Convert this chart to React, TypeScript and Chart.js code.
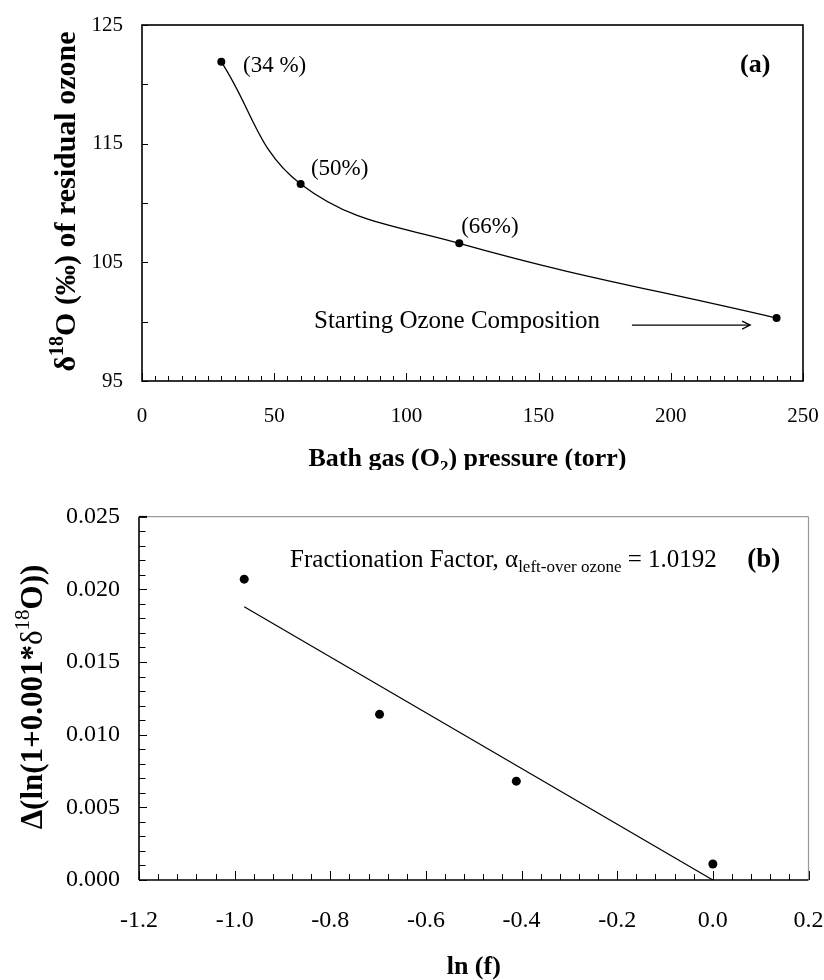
import React, { useEffect, useRef } from 'react';
import { Chart, registerables } from 'chart.js';

Chart.register(...registerables);

const SERIF = '"Liberation Serif", "Times New Roman", serif';

// ---------- Panel (a) data ----------
const pressure = [30, 60, 120, 240];
const delta18O = [121.9, 111.6, 106.6, 100.3];
const percentLabels = ['(34 %)', '(50%)', '(66%)'];
// label anchor positions in data units (x, y)
const percentLabelX = [38.2, 63.9, 120.7];
const percentLabelY = [121.05, 112.4, 107.5];
const startLabel = 'Starting Ozone Composition';

// ---------- Panel (b) data ----------
const lnF = [-0.98, -0.697, -0.411, 0.0];
const deltaLn = [0.0207, 0.0114, 0.0068, 0.0011];
const fitX = [-0.98, 0.0];
const fitY = [0.0188, 0.0];
const alphaValue = '1.0192';

type Seg = { t: string; font: string; dy?: number };

function segsWidth(ctx: CanvasRenderingContext2D, segs: Seg[]) {
  let w = 0;
  for (const s of segs) {
    ctx.font = s.font;
    w += ctx.measureText(s.t).width;
  }
  return w;
}

function drawSegs(ctx: CanvasRenderingContext2D, segs: Seg[], x: number, y: number) {
  let cx = x;
  for (const s of segs) {
    ctx.font = s.font;
    ctx.fillText(s.t, cx, y + (s.dy || 0));
    cx += ctx.measureText(s.t).width;
  }
}

function line(ctx: CanvasRenderingContext2D, x1: number, y1: number, x2: number, y2: number) {
  ctx.beginPath();
  ctx.moveTo(x1, y1);
  ctx.lineTo(x2, y2);
  ctx.stroke();
}

const f = (size: number, bold = false) => `${bold ? 'bold ' : ''}${size}px ${SERIF}`;

const decorA = {
  id: 'decorA',
  afterDraw(chart: any) {
    const { ctx, chartArea } = chart;
    const { left, right, top, bottom } = chartArea;
    const x = chart.scales.x;
    const y = chart.scales.y;
    ctx.save();
    ctx.strokeStyle = '#000';
    ctx.fillStyle = '#000';
    ctx.lineWidth = 1;
    // x ticks (inside)
    for (let i = 0; i <= 50; i++) {
      const px = Math.round(x.getPixelForValue(i * 5)) + 0.5;
      const len = i % 10 === 0 ? 8 : 5;
      line(ctx, px, bottom, px, bottom - len);
    }
    // y ticks (inside)
    for (let i = 0; i <= 6; i++) {
      const py = Math.round(y.getPixelForValue(95 + i * 5)) + 0.5;
      line(ctx, left, py, left + 6, py);
    }
    // frame
    ctx.lineWidth = 1.6;
    ctx.strokeRect(left, top, right - left, bottom - top);

    // annotations
    ctx.textBaseline = 'alphabetic';
    ctx.textAlign = 'left';
    ctx.font = f(23);
    percentLabels.forEach((t, i) => {
      ctx.fillText(t, x.getPixelForValue(percentLabelX[i]), y.getPixelForValue(percentLabelY[i]));
    });
    ctx.font = f(26, true);
    ctx.fillText('(a)', x.getPixelForValue(226.2), y.getPixelForValue(121.05));
    ctx.font = f(25);
    ctx.fillText(startLabel, x.getPixelForValue(65.05), y.getPixelForValue(99.45));
    // arrow
    const ax1 = x.getPixelForValue(185.3);
    const ax2 = x.getPixelForValue(230);
    const ay = y.getPixelForValue(99.71);
    ctx.lineWidth = 1.3;
    line(ctx, ax1, ay, ax2, ay);
    ctx.beginPath();
    ctx.moveTo(ax2 - 8, ay - 4);
    ctx.lineTo(ax2, ay);
    ctx.lineTo(ax2 - 8, ay + 4);
    ctx.stroke();

    // x title
    const xt: Seg[] = [
      { t: 'Bath gas (O', font: f(26, true) },
      { t: '2', font: f(17, true), dy: 6 },
      { t: ') pressure (torr)', font: f(26, true) },
    ];
    const xw = segsWidth(ctx, xt);
    drawSegs(ctx, xt, (left + right) / 2 - xw / 2 - 5, 466);

    // y title (rotated)
    const yt: Seg[] = [
      { t: 'δ', font: f(30, true) },
      { t: '18', font: f(20, true), dy: -12 },
      { t: 'O (‰) of residual ozone', font: f(30, true) },
    ];
    const yw = segsWidth(ctx, yt);
    ctx.translate(75, 201.5);
    ctx.rotate(-Math.PI / 2);
    drawSegs(ctx, yt, -yw / 2, 0);
    ctx.restore();
  },
};

const decorB = {
  id: 'decorB',
  afterDraw(chart: any) {
    const { ctx, chartArea } = chart;
    const { left, right, top, bottom } = chartArea;
    const x = chart.scales.x;
    const y = chart.scales.y;
    ctx.save();
    ctx.strokeStyle = '#000';
    ctx.fillStyle = '#000';
    ctx.lineWidth = 1;
    // x ticks (inside), every 0.04, major every 0.2
    for (let i = 0; i <= 35; i++) {
      const v = -1.2 + i * 0.04;
      const px = Math.round(x.getPixelForValue(v)) + 0.5;
      const len = i % 5 === 0 ? 9 : 6;
      line(ctx, px, bottom, px, bottom - len);
    }
    // y ticks (inside), every 0.001, major every 0.005
    for (let i = 0; i <= 25; i++) {
      const py = Math.round(y.getPixelForValue(i * 0.001)) + 0.5;
      const len = i % 5 === 0 ? 8 : 6.5;
      line(ctx, left, py, left + len, py);
    }
    // frame: gray top/right, black left/bottom
    ctx.strokeStyle = '#9a9a9a';
    ctx.lineWidth = 1.2;
    line(ctx, left, top, right, top);
    line(ctx, right, top, right, bottom);
    ctx.strokeStyle = '#000';
    ctx.lineWidth = 1.6;
    line(ctx, left, top, left, bottom);
    line(ctx, left, bottom, right, bottom);
    line(ctx, left, top, left + 8, top);

    // annotation
    ctx.textBaseline = 'alphabetic';
    ctx.textAlign = 'left';
    const bx = x.getPixelForValue(-0.884);
    const by = y.getPixelForValue(0.02156);
    drawSegs(
      ctx,
      [
        { t: 'Fractionation Factor, α', font: f(25) },
        { t: 'left-over ozone', font: f(17), dy: 5 },
        { t: ' = ' + alphaValue, font: f(25) },
      ],
      bx,
      by
    );
    ctx.font = f(27, true);
    ctx.fillText('(b)', x.getPixelForValue(0.072), by);

    // x title
    ctx.font = f(26, true);
    ctx.textAlign = 'center';
    ctx.fillText('ln (f)', (left + right) / 2, 974 - 470);
    ctx.textAlign = 'left';

    // y title rotated
    const yt: Seg[] = [
      { t: 'Δ(ln(1+0.001*', font: f(31, true) },
      { t: 'δ', font: f(31) },
      { t: '18', font: f(21), dy: -13 },
      { t: 'O))', font: f(31, true) },
    ];
    const yw = segsWidth(ctx, yt);
    ctx.translate(42, 697 - 470);
    ctx.rotate(-Math.PI / 2);
    drawSegs(ctx, yt, -yw / 2, 0);
    ctx.restore();
  },
};

const noPadX = (h: number) => (s: any) => {
  s.height = h;
  s.paddingLeft = 0;
  s.paddingRight = 0;
  s.paddingTop = 0;
  s.paddingBottom = 0;
};
const noPadY = (w: number) => (s: any) => {
  s.width = w;
  s.paddingLeft = 0;
  s.paddingRight = 0;
  s.paddingTop = 0;
  s.paddingBottom = 0;
};

export default function App() {
  const refA = useRef<HTMLCanvasElement>(null);
  const refB = useRef<HTMLCanvasElement>(null);

  useEffect(() => {
    const tickA = { family: SERIF, size: 21 };
    const tickB = { family: SERIF, size: 24 };

    const chartA = new Chart(refA.current as HTMLCanvasElement, {
      type: 'scatter',
      data: {
        datasets: [
          {
            data: pressure.map((p, i) => ({ x: p, y: delta18O[i] })),
            showLine: true,
            tension: 0.4,
            borderColor: '#000',
            borderWidth: 1.3,
            pointRadius: 4,
            pointBackgroundColor: '#000',
            pointBorderWidth: 0,
          },
        ],
      },
      options: {
        animation: false,
        responsive: false,
        layout: { padding: { top: 25, right: 21, left: 0, bottom: 0 } },
        plugins: { legend: { display: false }, tooltip: { enabled: false } },
        scales: {
          x: {
            type: 'linear',
            min: 0,
            max: 250,
            ticks: { stepSize: 50, font: tickA, color: '#000', padding: 23 },
            grid: { display: false, drawTicks: false },
            border: { display: false },
            afterFit: noPadX(89),
          },
          y: {
            min: 95,
            max: 125,
            ticks: { stepSize: 10, font: tickA, color: '#000', padding: 19 },
            grid: { display: false, drawTicks: false },
            border: { display: false },
            afterFit: noPadY(142),
          },
        },
      },
      plugins: [decorA],
    } as any);

    const chartB = new Chart(refB.current as HTMLCanvasElement, {
      type: 'scatter',
      data: {
        datasets: [
          {
            data: fitX.map((v, i) => ({ x: v, y: fitY[i] })),
            showLine: true,
            borderColor: '#000',
            borderWidth: 1.2,
            pointRadius: 0,
          },
          {
            data: lnF.map((v, i) => ({ x: v, y: deltaLn[i] })),
            showLine: false,
            pointRadius: 4.5,
            pointBackgroundColor: '#000',
            pointBorderWidth: 0,
          },
        ],
      },
      options: {
        animation: false,
        responsive: false,
        layout: { padding: { top: 46.7, right: 15.5, left: 0, bottom: 0 } },
        plugins: { legend: { display: false }, tooltip: { enabled: false } },
        scales: {
          x: {
            type: 'linear',
            min: -1.2,
            max: 0.2,
            ticks: {
              stepSize: 0.2,
              font: tickB,
              color: '#000',
              padding: 26,
              callback: (v: any) => Number(v).toFixed(1),
            },
            grid: { display: false, drawTicks: false },
            border: { display: false },
            afterFit: noPadX(100),
          },
          y: {
            min: 0,
            max: 0.025,
            ticks: {
              stepSize: 0.005,
              font: tickB,
              color: '#000',
              padding: 19,
              callback: (v: any) => Number(v).toFixed(3),
            },
            grid: { display: false, drawTicks: false },
            border: { display: false },
            afterFit: noPadY(139),
          },
        },
      },
      plugins: [decorB],
    } as any);

    return () => {
      chartA.destroy();
      chartB.destroy();
    };
  }, []);

  return (
    <div style={{ position: 'absolute', left: 0, top: 0, width: 824, height: 980, background: '#fff' }}>
      <canvas ref={refA} width={824} height={470} style={{ display: 'block', width: 824, height: 470 }} />
      <canvas ref={refB} width={824} height={510} style={{ display: 'block', width: 824, height: 510 }} />
    </div>
  );
}
